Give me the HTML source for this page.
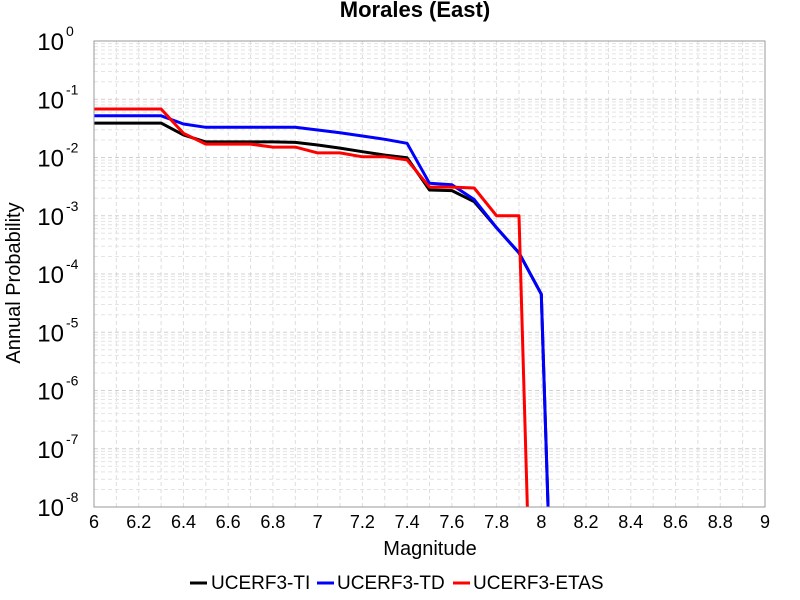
<!DOCTYPE html>
<html><head><meta charset="utf-8"><style>
html,body{margin:0;padding:0;background:#fff;width:800px;height:600px;overflow:hidden;}
svg{display:block;font-family:"Liberation Sans",Arial,sans-serif;}
</style></head><body>
<svg id="c" width="800" height="600" xmlns="http://www.w3.org/2000/svg">
<text x="415" y="17" text-anchor="middle" font-size="22" font-weight="bold">Morales (East)</text>
<g id="grid"></g>
<g id="axes"></g>
<defs><clipPath id="clip"><rect x="94" y="41" width="671" height="466"/></clipPath></defs>
<g id="series" clip-path="url(#clip)"></g>
<rect x="94" y="41" width="671" height="466" fill="none" stroke="#999" stroke-width="1"/>
<text x="430" y="555" text-anchor="middle" font-size="20">Magnitude</text>
<text transform="translate(20,283) rotate(-90)" text-anchor="middle" font-size="20">Annual Probability</text>
<g font-size="19">
<g><line x1="190" y1="583" x2="207" y2="583" stroke="#000" stroke-width="3"/><text x="211" y="589">UCERF3-TI</text></g>
<g><line x1="317" y1="583" x2="334" y2="583" stroke="#00f" stroke-width="3"/><text x="337" y="589">UCERF3-TD</text></g>
<g><line x1="453" y1="583" x2="470" y2="583" stroke="#f00" stroke-width="3"/><text x="473" y="589">UCERF3-ETAS</text></g>
</g>
</svg>
<script>
const mags = [6.0,6.1,6.2,6.3,6.4,6.5,6.6,6.7,6.8,6.9,7.0,7.1,7.2,7.3,7.4,7.5,7.6,7.7,7.8,7.9,8.0,8.05];
const ti = [0.039,0.039,0.039,0.039,0.0244,0.0185,0.0185,0.0185,0.0185,0.0182,0.0164,0.0145,0.0126,0.011,0.0099,0.00277,0.0027,0.00174,0.00062,0.00023,4.5e-5,4e-11];
const td = [0.052,0.052,0.052,0.052,0.0376,0.033,0.033,0.033,0.033,0.033,0.0296,0.0265,0.0234,0.0205,0.0175,0.0036,0.0034,0.0019,0.00062,0.00023,4.5e-5,4e-11];
const etasMags = [6.0,6.1,6.2,6.3,6.4,6.5,6.6,6.7,6.8,6.9,7.0,7.1,7.2,7.3,7.4,7.5,7.6,7.7,7.8,7.9,7.95];
const etas = [0.068,0.068,0.068,0.068,0.026,0.017,0.017,0.017,0.0151,0.0151,0.012,0.012,0.0103,0.0103,0.0091,0.0031,0.0031,0.003,0.001,0.001,2e-10];
const xTicks = [6,6.2,6.4,6.6,6.8,7,7.2,7.4,7.6,7.8,8,8.2,8.4,8.6,8.8,9];
const yExps = [0,-1,-2,-3,-4,-5,-6,-7,-8];
const NS='http://www.w3.org/2000/svg';
const X0=94,X1=765,Y0=41,Y1=507;
const xs=m=>X0+(m-6)/3*(X1-X0);
const ys=p=>Y0+(-Math.log10(p))/8*(Y1-Y0);
function mk(t,a,p){const e=document.createElementNS(NS,t);for(const k in a)e.setAttribute(k,a[k]);p.appendChild(e);return e;}
const grid=document.getElementById('grid'),axes=document.getElementById('axes'),series=document.getElementById('series');
for(let m=6;m<=9.001;m+=0.1){const x=xs(m);const gl=mk('line',{x1:x,x2:x,y1:Y0,y2:Y1,stroke:'#ddd','stroke-dasharray':'4,3','stroke-width':1},grid);

}
for(let e=0;e>-8;e--){for(let k=1;k<10;k++){const y=ys(k*Math.pow(10,e-1));const gl=mk('line',{x1:X0,x2:X1,y1:y,y2:y,stroke:k==1?'#d0d0d0':'#e4e4e4','stroke-dasharray':'4,3','stroke-width':1},grid);

}}
xTicks.forEach(v=>{const t=mk('text',{x:xs(v),y:528,'text-anchor':'middle','font-size':18},axes);t.textContent=String(v);

});
yExps.forEach(e=>{const y=ys(Math.pow(10,e));const t=mk('text',{x:64,y:y+9,'text-anchor':'end','font-size':24},axes);t.textContent='10';


const s=mk('text',{x:66,y:y-5,'font-size':14},axes);s.textContent=String(e);

});
function line(mx,vals,color,name){const pts=mx.map((m,i)=>xs(m).toFixed(1)+','+ys(vals[i]).toFixed(1)).join(' ');
const pl=mk('polyline',{points:pts,fill:'none',stroke:color,'stroke-width':3,'stroke-linejoin':'round'},series);

}
line(mags,ti,'#000','series-ucerf3-ti');
line(mags,td,'#00f','series-ucerf3-td');
line(etasMags,etas,'#f00','series-ucerf3-etas');
</script>
</body></html>
